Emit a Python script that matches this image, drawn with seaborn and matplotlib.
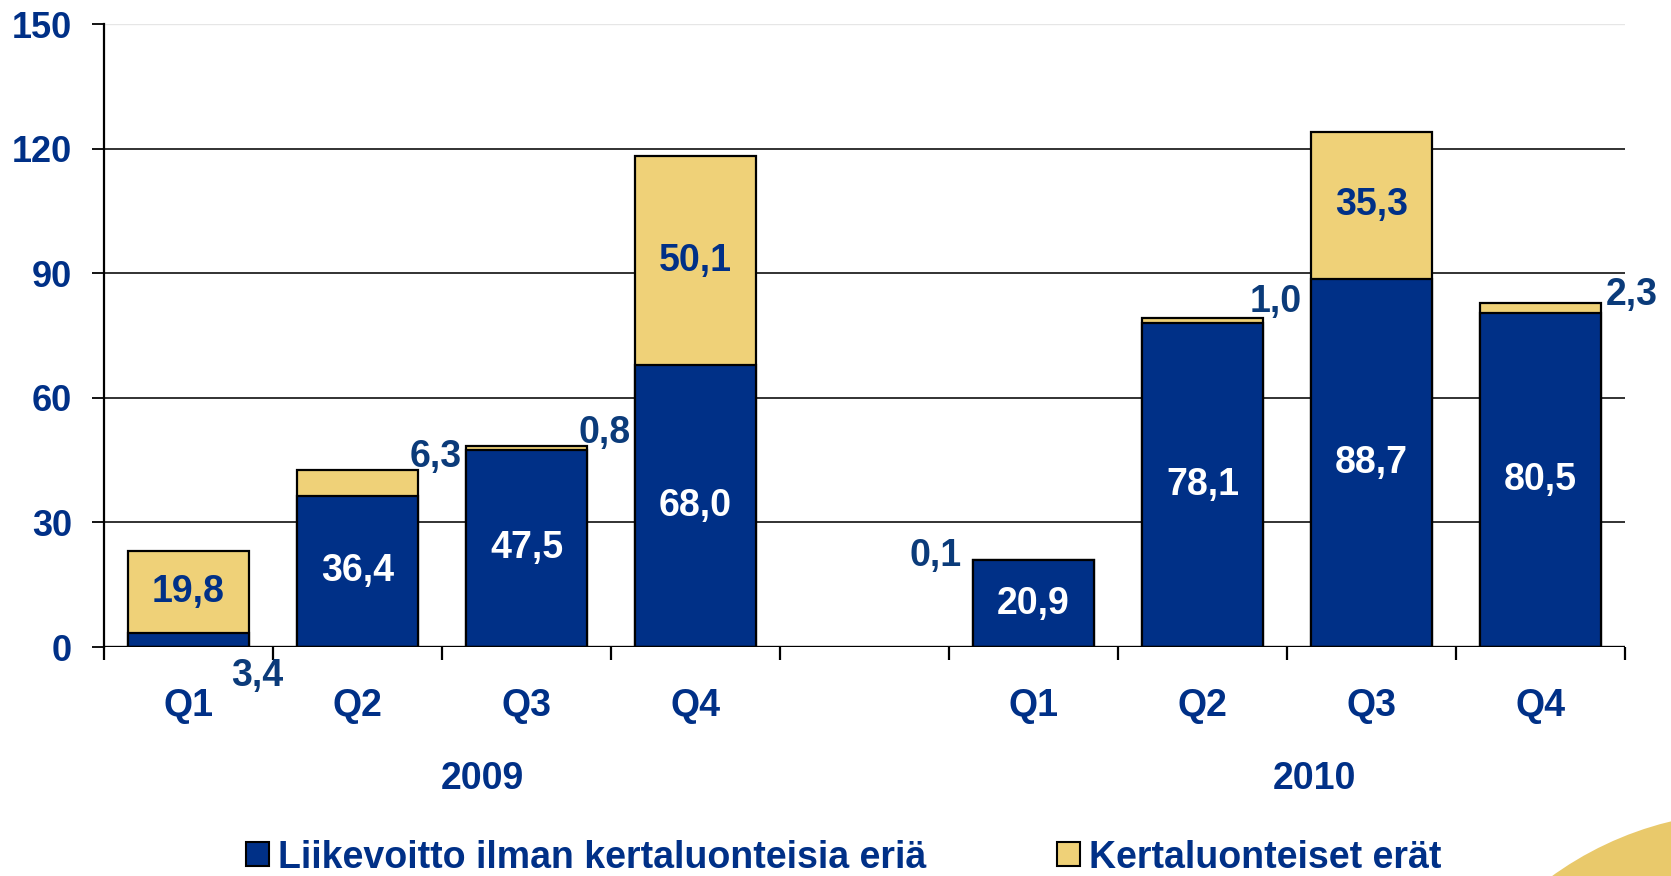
import pandas as pd
import matplotlib
matplotlib.use("Agg")
import matplotlib.pyplot as plt
import seaborn as sns
from matplotlib.patches import Patch, Circle

# data
slots = ["2009 Q1", "2009 Q2", "2009 Q3", "2009 Q4", "gap",
         "2010 Q1", "2010 Q2", "2010 Q3", "2010 Q4"]
quarters = ["Q1", "Q2", "Q3", "Q4", "Q1", "Q2", "Q3", "Q4"]
years = ["2009", "2010"]
base = [3.4, 36.4, 47.5, 68.0, 20.9, 78.1, 88.7, 80.5]
oneoff = [19.8, 6.3, 0.8, 50.1, 0.1, 1.0, 35.3, 2.3]
series_names = ["Liikevoitto ilman kertaluonteisia eriä", "Kertaluonteiset erät"]

BLUE = "#003087"
YELLOW = "#EFD178"
LABEL_BLUE = "#0B3B7A"

df = pd.DataFrame({"slot": [s for s in slots if s != "gap"],
                   "base": base, "oneoff": oneoff})
df["total"] = df["base"] + df["oneoff"]
df["pos"] = [slots.index(s) for s in df["slot"]]

sns.set_style("white")
plt.rcParams["font.family"] = ["Liberation Sans", "DejaVu Sans"]

fig = plt.figure(figsize=(16.71, 8.76), dpi=100)
ax = fig.add_axes([0.0622, 0.2614, 0.9103, 0.7112])

bar_kw = dict(order=slots, width=0.72, saturation=1, edgecolor="black",
              linewidth=1.6, ax=ax, zorder=3)
sns.barplot(data=df, x="slot", y="total", color=YELLOW, **bar_kw)
sns.barplot(data=df, x="slot", y="base", color=BLUE, **bar_kw)

ax.set_ylim(0, 150)
ax.set_xlim(-0.5, len(slots) - 0.5)
ax.set_yticks(range(0, 151, 30))
for v in range(30, 121, 30):
    ax.axhline(v, color="#222222", lw=1.3, zorder=1)
ax.axhline(150, color="#e6e6e6", lw=1.0, zorder=1)
ax.axhline(0, color="black", lw=2.4, zorder=4)

ax.tick_params(axis="y", left=True, direction="out", length=9, width=1.3,
               color="black", pad=14, labelsize=26, labelcolor=BLUE)
for t in ax.get_yticklabels():
    t.set_fontweight("bold")

# boundary ticks on x-axis, quarter labels drawn as text
ax.set_xticks([i - 0.5 for i in range(len(slots) + 1)])
ax.set_xticklabels([])
ax.tick_params(axis="x", bottom=True, direction="out", length=9, width=1.6,
               color="black")
ax.set_xlabel("")
ax.set_ylabel("")

for sp in ["top", "right", "bottom"]:
    ax.spines[sp].set_visible(False)
ax.spines["left"].set_color("black")
ax.spines["left"].set_linewidth(1.6)

for q, p in zip(quarters, df["pos"]):
    ax.text(p, -14.2, q, ha="center", va="center", fontsize=27,
            fontweight="bold", color=BLUE, clip_on=False)
for yr, xp in zip(years, [1.74, 6.66]):
    ax.text(xp, -31.8, yr, ha="center", va="center", fontsize=27,
            fontweight="bold", color=BLUE, clip_on=False)

# value labels
outside = {0: (0.41, -30.2), 1: (0.46, 3.1), 2: (0.46, 3.3),
           4: (-0.58, 0.9), 5: (0.43, 3.9), 7: (0.54, 2.0)}
for i, row in df.iterrows():
    segs = [(row["base"], 0.0, "white"), (row["oneoff"], row["base"], BLUE)]
    for val, bottom, col in segs:
        txt = f"{val:.1f}".replace(".", ",")
        if val >= 10:
            ax.text(row["pos"], bottom + val / 2, txt, ha="center", va="center",
                    fontsize=27, fontweight="bold", color=col, zorder=5)
        else:
            dx, dy = outside[i]
            ax.text(row["pos"] + dx, row["total"] + dy, txt, ha="center",
                    va="center", fontsize=27, fontweight="bold",
                    color=LABEL_BLUE, zorder=5, clip_on=False)

handles = [Patch(facecolor=BLUE, edgecolor="black", lw=1.5),
           Patch(facecolor=YELLOW, edgecolor="black", lw=1.5)]
leg = fig.legend(handles, series_names, loc="center", bbox_to_anchor=(0.505, 0.021),
                 ncol=2, frameon=False, handlelength=0.6, handleheight=0.6,
                 handletextpad=0.25, columnspacing=3.5,
                 prop={"family": ["Liberation Sans Narrow", "Liberation Sans"],
                       "weight": "bold", "size": 27})
for t in leg.get_texts():
    t.set_color(BLUE)

# decorative arc in the lower right corner (inches)
fig.patches.append(Circle((17.50, 8.76 - 11.50), 3.38,
                          transform=fig.dpi_scale_trans, facecolor="#E9C96B",
                          edgecolor="none", zorder=0))

fig.savefig("out.png", dpi=100)
